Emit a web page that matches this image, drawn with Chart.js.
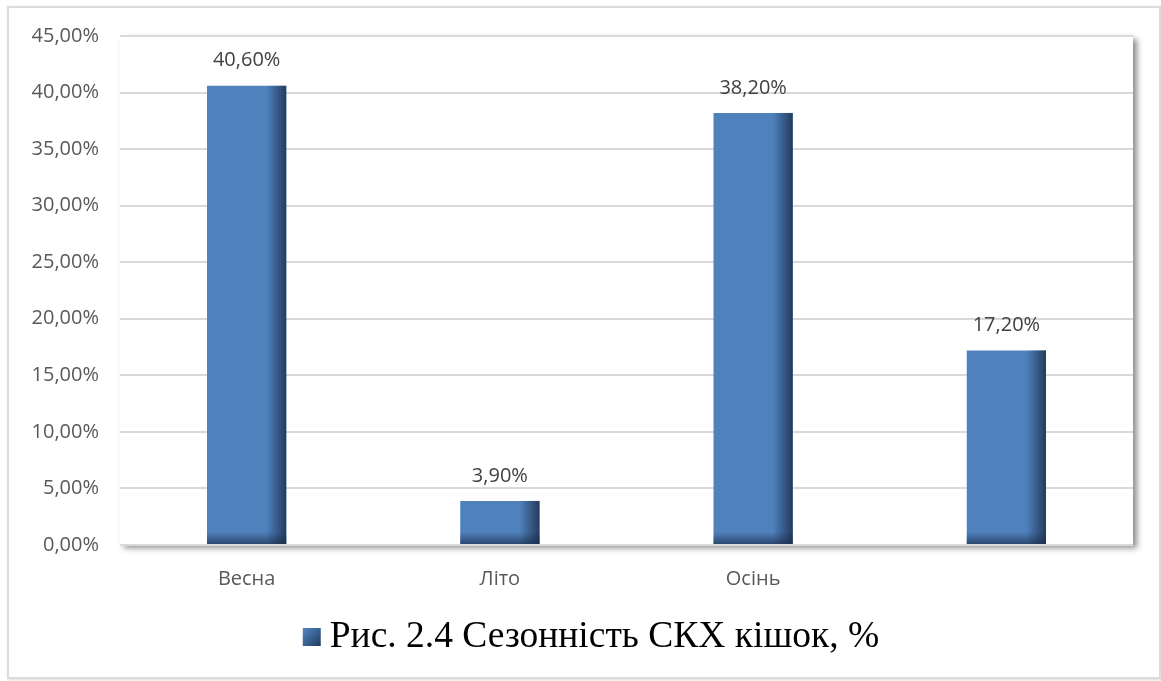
<!DOCTYPE html>
<html>
<head>
<meta charset="utf-8">
<script src="https://cdn.jsdelivr.net/npm/chart.js@4.4.0/dist/chart.umd.min.js"></script>
<style>
  html, body { margin: 0; padding: 0; background: #fff; }
  #frame {
    position: absolute; left: 7px; top: 6px; width: 1150px; height: 669px;
    border: 2px solid #dcdcdc; box-shadow: 1px 1px 3px rgba(0,0,0,0.15);
    background: #fff;
  }
  canvas { display: block; }
</style>
</head>
<body>
<div id="frame"><canvas id="chart" width="1150" height="669"></canvas></div>
<script>
// seasons and share of cases, %
const seasons = ["Весна", "Літо", "Осінь", ""];
const shares = [40.6, 3.9, 38.2, 17.2];
const seriesLabel = "Рис. 2.4 Сезонність СКХ кішок, %";
const yMin = 0;
const yMax = 45;
const yStep = 5;

const barBlue = "#4f81bd";
const labelFont = "'Open Sans', sans-serif";
const legendFont = "37.5px 'Liberation Serif', 'Times New Roman', serif";

function pct(v){
    return v.toFixed(2).replace(".", ",") + "%";
}

// plot area with a soft shadow on the right and bottom
const plotFrame = {
    id: "plotFrame",
    beforeDraw(chart){
        const a = chart.chartArea;
        const c = chart.ctx;
        c.save();
        c.shadowColor = "rgba(0,0,0,0.45)";
        c.shadowBlur = 6;
        c.shadowOffsetX = 4;
        c.shadowOffsetY = 3;
        c.fillStyle = "#fff";
        c.fillRect(a.left, a.top, a.right - a.left, a.bottom - a.top);
        c.restore();
    }
};

// darker right and bottom edges on each bar, then the value above it
const barShade = {
    id: "barShade",
    afterDatasetsDraw(chart){
        const c = chart.ctx;
        const meta = chart.getDatasetMeta(0);
        meta.data.forEach((bar, i) => {
            const left = bar.x - bar.width / 2;
            const right = bar.x + bar.width / 2;
            const top = bar.y;
            const bottom = bar.base;
            c.save();
            let g = c.createLinearGradient(right - bar.width * 0.25, 0, right, 0);
            g.addColorStop(0, "rgba(25,42,70,0)");
            g.addColorStop(1, "rgba(25,42,70,0.8)");
            c.fillStyle = g;
            c.fillRect(left, top, right - left, bottom - top);
            const h = Math.min(12, (bottom - top) / 2);
            g = c.createLinearGradient(0, bottom - h, 0, bottom);
            g.addColorStop(0, "rgba(25,42,70,0)");
            g.addColorStop(1, "rgba(25,42,70,0.65)");
            c.fillStyle = g;
            c.fillRect(left, bottom - h, right - left, h);
            c.fillStyle = "#404040";
            c.font = "20px " + labelFont;
            c.textAlign = "center";
            c.textBaseline = "middle";
            c.fillText(pct(shares[i]), bar.x, top - 25);
            c.restore();
        });
    }
};

// legend under the axis: shaded square and serif caption
const bottomLegend = {
    id: "bottomLegend",
    afterDraw(chart){
        const c = chart.ctx;
        const label = chart.data.datasets[0].label;
        c.save();
        c.font = legendFont;
        const textW = c.measureText(label).width;
        const box = 18, gap = 9;
        const total = box + gap + textW;
        const x0 = chart.width / 2 + 7 - total / 2;
        const baseY = chart.chartArea.bottom + 102;
        const boxTop = baseY - 19;
        const g = c.createLinearGradient(x0, boxTop, x0 + box, boxTop + box);
        g.addColorStop(0, "#5487c4");
        g.addColorStop(1, "#203c60");
        c.fillStyle = g;
        c.fillRect(x0, boxTop, box, box);
        c.fillStyle = "#000";
        c.textBaseline = "alphabetic";
        c.fillText(label, x0 + box + gap, baseY);
        c.restore();
    }
};

new Chart(document.getElementById("chart"), {
    type: "bar",
    data: {
        labels: seasons,
        datasets: [{
            label: seriesLabel,
            data: shares,
            backgroundColor: barBlue,
            borderWidth: 0,
            barPercentage: 0.313,
            categoryPercentage: 1
        }]
    },
    options: {
        responsive: false,
        animation: false,
        layout: { padding: { top: 28, right: 26, bottom: 66, left: 0 } },
        plugins: {
            tooltip: { enabled: false },
            legend: { display: false }
        },
        scales: {
            x: {
                grid: { display: false },
                border: { display: false },
                ticks: { color: "#595959", font: { family: labelFont, size: 20 }, padding: 14 },
                afterFit(scale){ scale.height = 66; }
            },
            y: {
                min: yMin,
                max: yMax,
                grid: { color: "#d9d9d9", lineWidth: 2, drawTicks: false },
                border: { display: false },
                ticks: {
                    stepSize: yStep,
                    color: "#595959",
                    font: { family: labelFont, size: 20 },
                    padding: 21,
                    callback: v => pct(v)
                },
                afterFit(scale){
                    scale.width = 111;
                    scale.paddingTop = 12;
                    scale.paddingBottom = 12;
                }
            }
        }
    },
    plugins: [plotFrame, barShade, bottomLegend]
});
</script>
</body>
</html>
